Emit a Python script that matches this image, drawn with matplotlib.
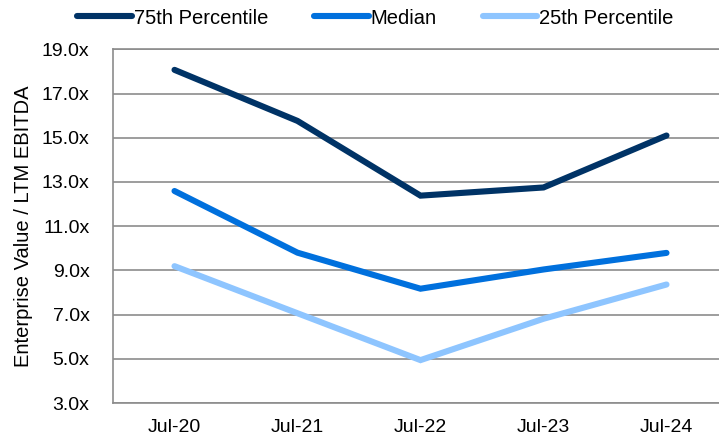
import matplotlib
matplotlib.use("Agg")
import matplotlib.pyplot as plt

categories = ["Jul-20", "Jul-21", "Jul-22", "Jul-23", "Jul-24"]
p75 = [18.07, 15.76, 12.38, 12.75, 15.10]
median = [12.59, 9.80, 8.17, 9.04, 9.79]
p25 = [9.19, 7.06, 4.94, 6.81, 8.36]
yticks = [3, 5, 7, 9, 11, 13, 15, 17, 19]

plt.rcParams['font.family'] = ['Liberation Sans', 'DejaVu Sans']

fig = plt.figure(figsize=(7.19, 4.36), dpi=100)
W, H = 719, 436
left, right, top, bottom = 113, 728, 49.3, 403
ax = fig.add_axes([left / W, 1 - bottom / H, (right - left) / W, (bottom - top) / H])

x = list(range(len(categories)))
series = [("75th Percentile", p75, "#003366"),
          ("Median", median, "#0070DD"),
          ("25th Percentile", p25, "#8EC5FF")]
for name, vals, col in series:
    ax.plot(x, vals, color=col, lw=4.4, solid_capstyle='round', solid_joinstyle='miter', label=name, zorder=3)

ax.set_xlim(-0.5, 4.5)
ax.set_ylim(3, 19)
ax.set_yticks(yticks)
ax.set_yticklabels([f"{v:.1f}x" for v in yticks])
ax.set_xticks(x)
ax.set_xticklabels(categories)
ax.tick_params(axis='both', length=0, labelsize=14, colors='black')
ax.tick_params(axis='y', pad=17)
ax.tick_params(axis='x', pad=11.5)
ax.grid(axis='y', color='#8c8c8c', lw=1.2, zorder=1)
for s in ax.spines.values():
    s.set_color('#8c8c8c')
    s.set_linewidth(1.2)
ax.set_ylabel("Enterprise Value / LTM EBITDA", fontsize=14.5, labelpad=6)

leg = fig.legend(loc='center', bbox_to_anchor=(375.5 / W, 1 - 18 / H), ncol=3, frameon=False,
                 fontsize=14.5, handlelength=2.7, handletextpad=0.1, columnspacing=2.3)

fig.savefig("out.png", dpi=100)
